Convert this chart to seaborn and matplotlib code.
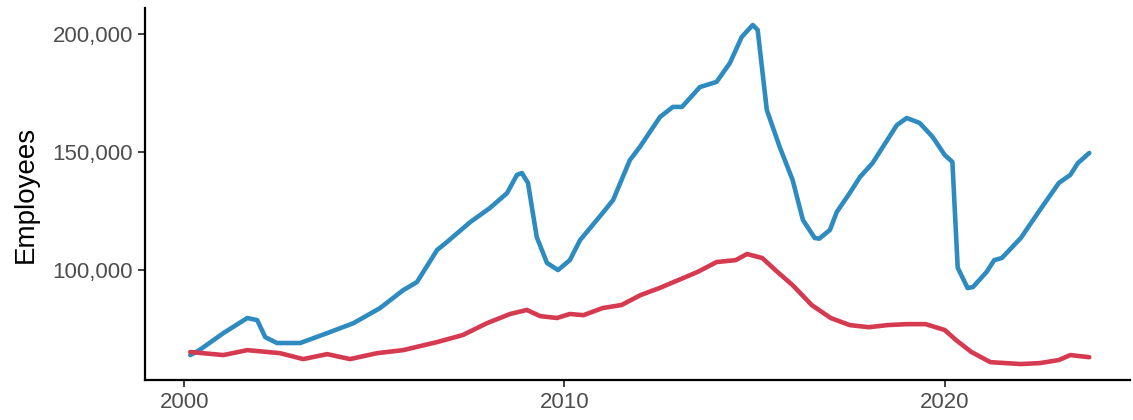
import numpy as np
import pandas as pd
import matplotlib
matplotlib.use("Agg")
import matplotlib.pyplot as plt
import matplotlib.ticker as mticker
import seaborn as sns

# valores (ano decimal, empregados)
anos_azul = [2000.16, 2000.4, 2001.03, 2001.66, 2001.92, 2002.13, 2002.44, 2003.05,
             2003.76, 2004.45, 2005.15, 2005.76, 2006.12, 2006.65, 2006.91, 2007.52,
             2008.04, 2008.49, 2008.75, 2008.88, 2009.04, 2009.27, 2009.54, 2009.83,
             2010.14, 2010.41, 2011.0, 2011.28, 2011.72, 2011.98, 2012.51, 2012.85,
             2013.09, 2013.56, 2014.0, 2014.35, 2014.66, 2014.95, 2015.08, 2015.32,
             2015.66, 2016.0, 2016.27, 2016.58, 2016.7, 2016.98, 2017.16, 2017.5,
             2017.77, 2018.1, 2018.37, 2018.74, 2019.0, 2019.34, 2019.68, 2020.0,
             2020.2, 2020.34, 2020.6, 2020.74, 2021.1, 2021.3, 2021.5, 2022.0,
             2022.5, 2023.0, 2023.3, 2023.5, 2023.8]
empregados_azul = [64000, 66100, 73300, 79700, 78800, 71600, 69100, 69100,
                   73300, 77500, 83900, 91500, 94900, 108500, 111900, 120300,
                   126300, 132600, 140300, 141100, 136900, 114000, 103000, 100000,
                   104200, 112700, 124100, 129700, 146600, 152100, 164800, 169100,
                   169100, 177500, 179700, 187700, 198700, 203800, 201700, 167800,
                   152100, 138100, 121200, 113600, 113300, 117000, 124600, 132600,
                   139400, 145300, 152100, 161400, 164400, 162300, 156400, 148700,
                   145800, 101000, 92400, 92800, 99200, 104200, 105100, 113600,
                   125400, 136900, 140300, 145300, 149600]

anos_vermelho = [2000.16, 2001.03, 2001.66, 2002.52, 2003.13, 2003.76, 2004.36, 2005.07,
                 2005.76, 2006.65, 2007.33, 2007.96, 2008.57, 2009.01, 2009.36, 2009.8,
                 2010.14, 2010.5, 2011.0, 2011.5, 2012.0, 2012.5, 2013.0, 2013.5,
                 2014.0, 2014.5, 2014.8, 2015.2, 2015.6, 2016.0, 2016.5, 2017.0,
                 2017.5, 2018.0, 2018.5, 2019.0, 2019.5, 2020.0, 2020.3, 2020.7,
                 2021.2, 2022.0, 2022.5, 2023.0, 2023.3, 2023.8]
empregados_vermelho = [65300, 64000, 66100, 64800, 62300, 64400, 62300, 64800,
                       66100, 69500, 72500, 77500, 81400, 83100, 80500, 79700,
                       81400, 80900, 83900, 85200, 89400, 92400, 95800, 99200,
                       103400, 104200, 106800, 105100, 99200, 93600, 85200, 79700,
                       76700, 75800, 76700, 77100, 77100, 74600, 70300, 65300,
                       61000, 60200, 60600, 61900, 64000, 63100]

df = pd.concat([
    pd.DataFrame({'ano': anos_azul, 'empregados': empregados_azul, 'serie': 'azul'}),
    pd.DataFrame({'ano': anos_vermelho, 'empregados': empregados_vermelho, 'serie': 'vermelho'}),
], ignore_index=True)

sns.set_theme(style='ticks')
plt.rcParams['font.family'] = ['Liberation Sans', 'DejaVu Sans']

fig = plt.figure(figsize=(11.33, 4.2), dpi=100)
ax = fig.add_axes([0.128, 0.095, 0.869, 0.886])

sns.lineplot(data=df, x='ano', y='empregados', hue='serie',
             palette={'azul': '#2E8BC0', 'vermelho': '#D63A50'},
             linewidth=3.3, legend=False, ax=ax, estimator=None, sort=False)

ax.set_xlim(1998.97, 2024.86)
ax.set_ylim(53400, 211000)
ax.set_xticks([2000, 2010, 2020])
ax.set_yticks([100000, 150000, 200000])
ax.yaxis.set_major_formatter(mticker.FuncFormatter(lambda v, p: f'{int(v):,}'))
ax.set_xlabel('')
ax.set_ylabel('Employees', fontsize=20, color='black', labelpad=10)
ax.tick_params(axis='both', labelsize=16, labelcolor='#4D4D4D', length=5,
               width=1.3, color='#333333')
for lado in ['top', 'right']:
    ax.spines[lado].set_visible(False)
for lado in ['left', 'bottom']:
    ax.spines[lado].set_linewidth(1.6)
    ax.spines[lado].set_color('black')

fig.savefig('out.png', dpi=100)
